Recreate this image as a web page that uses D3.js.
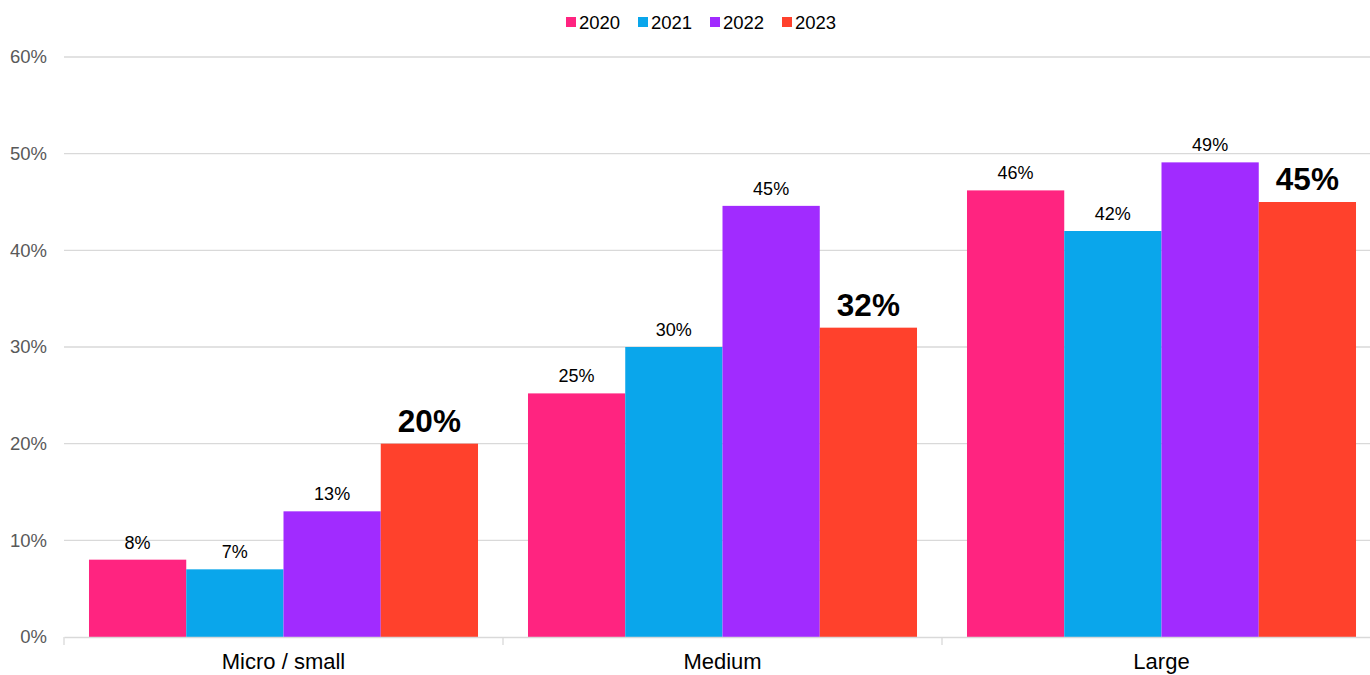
<!DOCTYPE html>
<html>
<head>
<meta charset="utf-8">
<script src="https://cdn.jsdelivr.net/npm/d3@7"></script>
<style>
  html, body { margin: 0; padding: 0; background: #fff; }
  svg { display: block; font-family: "Liberation Sans", Arial, sans-serif; }
</style>
</head>
<body>
<svg id="chart" width="1370" height="675"></svg>
<script>
// Share of businesses by size, per survey year
const categories = ["Micro / small", "Medium", "Large"];
const years = ["2020", "2021", "2022", "2023"];
const values2020 = [0.080, 0.252, 0.462];
const values2021 = [0.070, 0.300, 0.420];
const values2022 = [0.130, 0.446, 0.491];
const values2023 = [0.200, 0.320, 0.450];
const yTicks = [0, 0.1, 0.2, 0.3, 0.4, 0.5, 0.6];
const colors = ["#FF2480", "#0AA6EB", "#A12BFF", "#FF412C"];

const seriesValues = [values2020, values2021, values2022, values2023];
const rows = categories.map((c, i) => ({
  category: c,
  items: years.map((y, j) => ({ year: y, value: seriesValues[j][i], idx: j }))
}));

const svg = d3.select("#chart");
const margin = { left: 64, top: 57, bottom: 38 };
const plotRight = 1381;
const height = 675;

const x0 = d3.scaleBand().domain(categories).range([margin.left, plotRight]).paddingInner(0).paddingOuter(0);
const x1 = d3.scaleBand().domain(years).range([0, x0.bandwidth()]).paddingInner(0).paddingOuter(0.257);
const y = d3.scaleLinear().domain([0, 0.6]).range([height - margin.bottom, margin.top]);

// Gridlines
svg.append("g").selectAll("line").data(yTicks.filter(t => t > 0)).join("line")
  .attr("x1", margin.left).attr("x2", 1370)
  .attr("y1", d => y(d)).attr("y2", d => y(d))
  .attr("stroke", "#d9d9d9").attr("stroke-width", 1.3);

// Y axis labels
const yAxis = d3.axisLeft(y).tickValues(yTicks).tickFormat(d3.format(".0%")).tickSize(0).tickPadding(17);
const yg = svg.append("g").attr("transform", `translate(${margin.left},0)`).call(yAxis);
yg.select(".domain").remove();
yg.selectAll("text").attr("fill", "#595959").style("font-size", "18.5px")
  .style("font-family", "'Liberation Sans', Arial, sans-serif");

// Bars
const groups = svg.append("g").selectAll("g").data(rows).join("g")
  .attr("transform", d => `translate(${x0(d.category)},0)`);

groups.selectAll("rect").data(d => d.items).join("rect")
  .attr("x", d => x1(d.year))
  .attr("width", x1.bandwidth())
  .attr("y", d => y(d.value))
  .attr("height", d => y(0) - y(d.value))
  .attr("fill", d => colors[d.idx]);

// Value labels (latest year emphasised)
const fmt = d3.format(".0%");
groups.selectAll("text").data(d => d.items).join("text")
  .attr("x", d => x1(d.year) + x1.bandwidth() / 2)
  .attr("y", d => y(d.value) - (d.idx === 3 ? 12 : 11))
  .attr("text-anchor", "middle")
  .attr("fill", "#000")
  .style("font-size", d => d.idx === 3 ? "31.5px" : "18px")
  .style("font-weight", d => d.idx === 3 ? "bold" : "normal")
  .text(d => fmt(d.value));

// X axis
const xAxis = d3.axisBottom(x0).tickSize(0).tickPadding(16);
const xg = svg.append("g").attr("transform", `translate(0,${y(0)})`).call(xAxis);
xg.select(".domain").attr("stroke", "#d9d9d9").attr("stroke-width", 1.3);
xg.selectAll("text").attr("fill", "#000").style("font-size", "22px")
  .style("font-family", "'Liberation Sans', Arial, sans-serif");
// Category separator ticks
const boundaries = categories.map(c => x0(c)).concat([plotRight]);
xg.selectAll("line.sep").data(boundaries).join("line").attr("class", "sep")
  .attr("x1", d => d).attr("x2", d => d).attr("y1", 0).attr("y2", 8)
  .attr("stroke", "#d9d9d9").attr("stroke-width", 1.3);

// Legend
const legend = svg.append("g");
const legendX = [566, 638, 710, 782];
const lg = legend.selectAll("g").data(years).join("g")
  .attr("transform", (d, i) => `translate(${legendX[i]},22)`);
lg.append("rect").attr("x", 0).attr("y", -5).attr("width", 10).attr("height", 10)
  .attr("fill", (d, i) => colors[i]);
lg.append("text").attr("x", 13).attr("y", 7).attr("fill", "#000")
  .style("font-size", "18.5px").text(d => d);
</script>
</body>
</html>
